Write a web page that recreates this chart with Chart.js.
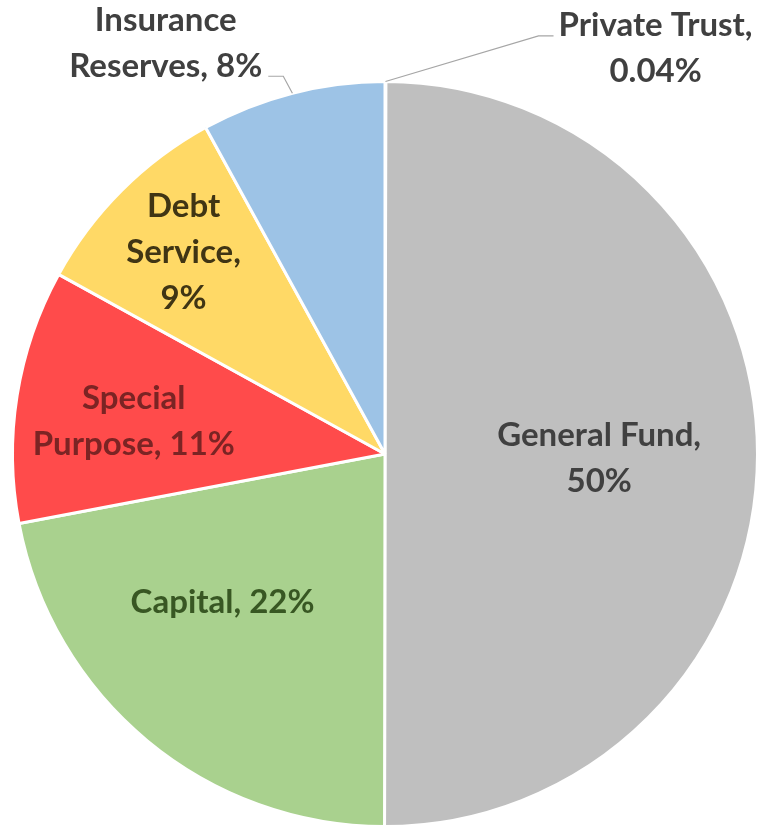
<!DOCTYPE html>
<html lang="en">
<head>
<meta charset="UTF-8">
<title>Fund Distribution</title>
<script src="https://cdn.jsdelivr.net/npm/chart.js"></script>
<style>
    html, body {
        margin: 0;
        padding: 0;
        background: #ffffff;
    }
    .wrap {
        width: 763px;
        height: 828px;
        position: relative;
    }
</style>
</head>
<body>
<div class="wrap">
    <canvas id="fundChart" width="763" height="828"></canvas>
</div>
<script>
    // slices run clockwise from 12 o'clock
    const categories = ['Private Trust', 'General Fund', 'Capital', 'Special Purpose', 'Debt Service', 'Insurance Reserves'];
    const shares = [0.04, 50, 22, 11, 9, 8];
    const sliceColors = ['#9DC3E6', '#BFBFBF', '#A9D18E', '#FF4B4B', '#FFD966', '#9DC3E6'];
    const labelColors = ['#404040', '#404040', '#385723', '#7B2424', '#403514', '#404040'];
    // how many words go on each line of a data label
    const wordsPerLine = [[2, 1], [2, 1], [2], [1, 2], [1, 1, 1], [1, 2]];

    // label placement: distance from centre as a share of the radius,
    // and a turn (degrees) away from the slice's mid angle
    const labelPlacement = [
        { frac: 1.31, turn: 33.6, leader: 'left' },
        { frac: 0.575, turn: 1 },
        { frac: 0.59, turn: 8 },
        { frac: 0.68, turn: -1.7 },
        { frac: 0.765, turn: 0 },
        { frac: 1.25, turn: -13.7, leader: 'right' }
    ];

    const FONT = 'bold 33px Lato, "Open Sans", sans-serif';
    const LINE_H = 46;

    function labelLines(i) {
        const words = (categories[i] + ', ' + shares[i] + '%').split(' ');
        const lines = [];
        let k = 0;
        wordsPerLine[i].forEach(function (n) {
            lines.push(words.slice(k, k + n).join(' '));
            k += n;
        });
        return lines;
    }

    const sliceLabels = {
        id: 'sliceLabels',
        afterDatasetsDraw(chart) {
            const ctx = chart.ctx;
            const arcs = chart.getDatasetMeta(0).data;
            ctx.save();
            ctx.font = FONT;
            ctx.textAlign = 'center';
            ctx.textBaseline = 'middle';
            arcs.forEach(function (arc, i) {
                const p = arc.getProps(['x', 'y', 'startAngle', 'endAngle', 'outerRadius'], true);
                const mid = (p.startAngle + p.endAngle) / 2;
                const place = labelPlacement[i];
                const a = mid + place.turn * Math.PI / 180;
                const cx = p.x + Math.cos(a) * p.outerRadius * place.frac;
                const cy = p.y + Math.sin(a) * p.outerRadius * place.frac;
                const lines = labelLines(i);
                const top = cy - (lines.length - 1) * LINE_H / 2;

                if (place.leader) {
                    const ex = p.x + Math.cos(mid) * p.outerRadius;
                    const ey = p.y + Math.sin(mid) * p.outerRadius;
                    let jx, jy, kx;
                    if (place.leader === 'left') {
                        const w = ctx.measureText(lines[0]).width;
                        jy = top + 11;
                        kx = cx - w / 2 - 5;
                        jx = kx - 15;
                    } else {
                        const last = lines[lines.length - 1];
                        const w = ctx.measureText(last).width;
                        jy = top + (lines.length - 1) * LINE_H + 10;
                        kx = cx + w / 2 + 6;
                        jx = kx + 15;
                    }
                    ctx.beginPath();
                    ctx.strokeStyle = '#A6A6A6';
                    ctx.lineWidth = 1.2;
                    ctx.moveTo(ex, ey);
                    ctx.lineTo(jx, jy);
                    ctx.lineTo(kx, jy);
                    ctx.stroke();
                }

                ctx.fillStyle = labelColors[i];
                lines.forEach(function (line, j) {
                    ctx.fillText(line, cx, top + j * LINE_H);
                });
            });
            ctx.restore();
        }
    };

    new Chart(document.getElementById('fundChart'), {
        type: 'pie',
        data: {
            labels: categories,
            datasets: [{
                data: shares,
                backgroundColor: sliceColors,
                borderColor: '#ffffff',
                borderWidth: 3
            }]
        },
        options: {
            responsive: false,
            animation: false,
            events: [],
            layout: {
                padding: { top: 80, bottom: 0, left: 11, right: 4 }
            },
            plugins: {
                legend: { display: false },
                tooltip: { enabled: false }
            }
        },
        plugins: [sliceLabels]
    });
</script>
</body>
</html>
